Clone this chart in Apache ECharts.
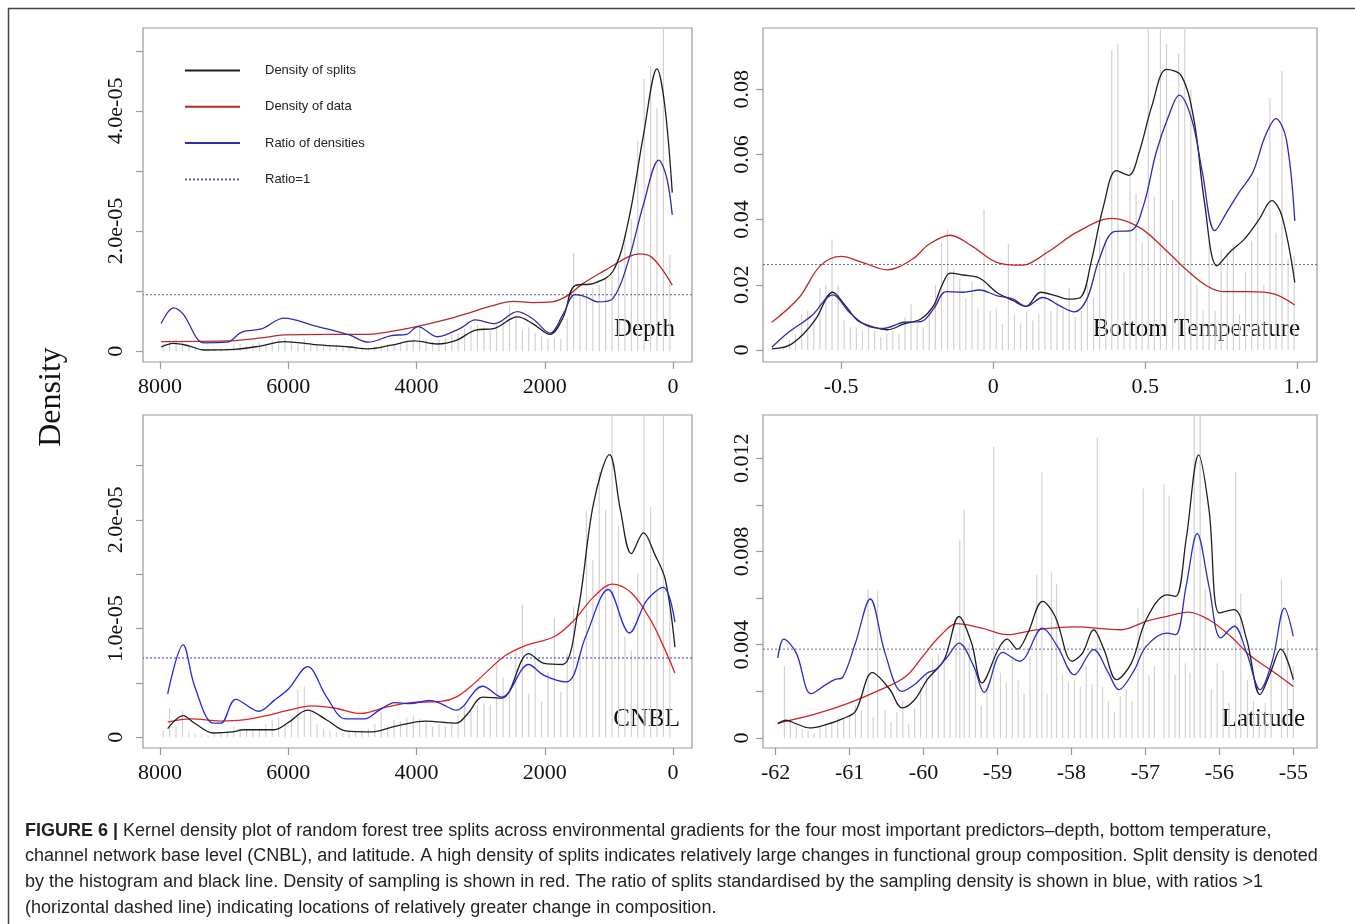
<!DOCTYPE html>
<html>
<head>
<meta charset="utf-8">
<script src="https://cdn.jsdelivr.net/npm/echarts@6/dist/echarts.min.js"></script>
<style>
  html, body { margin: 0; padding: 0; background: #fff; }
  #chart { width: 1355px; height: 924px; }
</style>
</head>
<body>
<div id="chart"></div>
<script>
// ---- Depth (m), densities in units of 1e-5 ----
const depthHist = [[7950,0.12],[7850,0.18],[7750,0.2],[7650,0.15],[7550,0.1],[7450,0.08],[7350,0.05],[7250,0.04],[7150,0.05],[7050,0.06],[6950,0.05],[6850,0.1],[6750,0.12],[6650,0.1],[6550,0.12],[6450,0.15],[6350,0.12],[6250,0.18],[6150,0.2],[6050,0.22],[5950,0.18],[5850,0.12],[5750,0.2],[5650,0.15],[5550,0.12],[5450,0.1],[5350,0.08],[5250,0.1],[5150,0.08],[5050,0.06],[4950,0.05],[4850,0.06],[4750,0.05],[4650,0.08],[4550,0.1],[4450,0.12],[4350,0.1],[4250,0.14],[4150,0.16],[4050,0.2],[3950,0.46],[3850,0.2],[3750,0.15],[3650,0.2],[3550,0.22],[3450,0.28],[3350,0.3],[3250,0.38],[3150,0.42],[3050,0.45],[2950,0.4],[2850,0.35],[2750,0.45],[2650,0.5],[2550,0.77],[2450,0.6],[2350,0.35],[2250,0.4],[2150,0.3],[2050,0.25],[1950,0.2],[1850,0.22],[1750,0.2],[1650,0.55],[1550,1.63],[1450,0.95],[1350,1.0],[1250,1.05],[1150,1.1],[1050,1.2],[950,1.27],[850,1.45],[750,1.94],[650,2.2],[550,3.5],[450,4.53],[350,4.74],[250,4.04],[150,5.6],[50,1.6]];
const depthSplits = [[7982,0.07],[7791,0.13],[7553,0.09],[7314,0.02],[6837,0.03],[6420,0.09],[6062,0.16],[5586,0.11],[5049,0.07],[4751,0.04],[4393,0.10],[4036,0.17],[3678,0.12],[3380,0.18],[3082,0.35],[2784,0.38],[2426,0.57],[2188,0.46],[1919,0.28],[1711,0.57],[1532,1.09],[1234,1.13],[936,1.33],[697,2.16],[459,3.61],[250,4.70],[131,4.11],[12,2.64]];
const depthData = [[7982,0.16],[6956,0.17],[6420,0.22],[6062,0.27],[5347,0.28],[4751,0.28],[4393,0.33],[4036,0.40],[3559,0.52],[3201,0.63],[2843,0.75],[2486,0.83],[2188,0.81],[1890,0.82],[1651,0.92],[1413,1.12],[1055,1.35],[697,1.57],[519,1.62],[340,1.57],[161,1.35],[12,1.10]];
const depthRatio = [[7982,0.46],[7791,0.72],[7642,0.62],[7314,0.14],[6956,0.15],[6718,0.32],[6420,0.37],[6062,0.55],[5586,0.42],[5049,0.27],[4751,0.15],[4393,0.26],[4155,0.28],[3976,0.41],[3678,0.24],[3320,0.38],[3082,0.52],[2784,0.46],[2426,0.66],[2188,0.54],[1919,0.30],[1711,0.62],[1532,0.94],[1353,0.90],[1174,0.82],[936,0.88],[697,1.50],[459,2.45],[221,3.18],[101,2.90],[12,2.27]];
const depthOne = 0.94;
const depthTicks = [0, 2000, 4000, 6000, 8000];
const depthYTicks = [0, 1, 2, 3, 4, 5];
const depthYLabels = [0, 2, 4];

// ---- Bottom temperature (deg C) ----
const tempHist = [[-0.69,0.001],[-0.67,0.003],[-0.65,0.005],[-0.63,0.011],[-0.61,0.012],[-0.59,0.01],[-0.57,0.019],[-0.55,0.02],[-0.53,0.034],[-0.51,0.02],[-0.49,0.009],[-0.47,0.007],[-0.45,0.007],[-0.43,0.006],[-0.41,0.008],[-0.39,0.006],[-0.37,0.004],[-0.35,0.005],[-0.33,0.006],[-0.31,0.005],[-0.29,0.01],[-0.27,0.014],[-0.25,0.008],[-0.23,0.007],[-0.21,0.011],[-0.19,0.02],[-0.17,0.033],[-0.15,0.037],[-0.13,0.025],[-0.11,0.022],[-0.09,0.016],[-0.07,0.021],[-0.05,0.013],[-0.03,0.043],[-0.01,0.012],[0.01,0.013],[0.03,0.008],[0.05,0.0325],[0.07,0.011],[0.09,0.008],[0.11,0.012],[0.13,0.009],[0.15,0.011],[0.17,0.031],[0.19,0.012],[0.21,0.015],[0.23,0.013],[0.25,0.019],[0.27,0.01],[0.29,0.012],[0.31,0.02],[0.33,0.016],[0.35,0.035],[0.37,0.034],[0.39,0.092],[0.41,0.094],[0.43,0.024],[0.45,0.056],[0.47,0.048],[0.49,0.033],[0.51,0.12],[0.53,0.047],[0.55,0.12],[0.57,0.094],[0.59,0.046],[0.61,0.091],[0.63,0.12],[0.65,0.08],[0.67,0.02],[0.69,0.012],[0.71,0.0335],[0.73,0.012],[0.75,0.031],[0.77,0.03],[0.79,0.0325],[0.81,0.011],[0.83,0.024],[0.85,0.0335],[0.87,0.053],[0.89,0.02],[0.91,0.0775],[0.93,0.036],[0.95,0.0856],[0.97,0.028],[0.99,0.029]];
const tempSplits = [[-0.728,0.0003],[-0.673,0.0013],[-0.624,0.0049],[-0.583,0.0095],[-0.528,0.0177],[-0.486,0.0136],[-0.445,0.009],[-0.39,0.0069],[-0.348,0.0062],[-0.293,0.008],[-0.238,0.0095],[-0.196,0.0136],[-0.169,0.0197],[-0.141,0.0236],[-0.099,0.023],[-0.044,0.022],[0.011,0.0177],[0.066,0.0151],[0.108,0.0134],[0.156,0.0177],[0.204,0.0167],[0.246,0.0156],[0.287,0.0161],[0.322,0.0269],[0.363,0.0442],[0.405,0.055],[0.446,0.0536],[0.48,0.0606],[0.522,0.0749],[0.57,0.0861],[0.619,0.0841],[0.66,0.0708],[0.695,0.0453],[0.736,0.0258],[0.778,0.030],[0.826,0.034],[0.874,0.040],[0.916,0.0458],[0.95,0.041],[0.992,0.0207]];
const tempData = [[-0.728,0.0085],[-0.638,0.0161],[-0.569,0.0258],[-0.5,0.0287],[-0.431,0.0269],[-0.348,0.0246],[-0.265,0.0279],[-0.21,0.0325],[-0.141,0.0352],[-0.072,0.032],[0.011,0.0269],[0.094,0.026],[0.177,0.0299],[0.273,0.036],[0.391,0.0404],[0.481,0.0376],[0.564,0.031],[0.633,0.0248],[0.702,0.0197],[0.757,0.0179],[0.84,0.0179],[0.923,0.0172],[0.992,0.0138]];
const tempRatio = [[-0.728,0.0008],[-0.673,0.0054],[-0.597,0.0105],[-0.528,0.0169],[-0.472,0.0115],[-0.417,0.0075],[-0.362,0.0066],[-0.293,0.0085],[-0.238,0.0087],[-0.196,0.0126],[-0.155,0.0179],[-0.099,0.0177],[-0.044,0.0184],[0.011,0.0167],[0.066,0.0156],[0.108,0.0134],[0.163,0.0161],[0.218,0.0136],[0.267,0.0117],[0.308,0.0156],[0.349,0.0279],[0.398,0.0363],[0.453,0.0366],[0.494,0.0442],[0.536,0.0606],[0.577,0.0718],[0.612,0.0782],[0.653,0.0708],[0.688,0.0545],[0.729,0.0366],[0.771,0.0427],[0.812,0.0488],[0.854,0.0545],[0.895,0.0657],[0.93,0.071],[0.964,0.0647],[0.992,0.0396]];
const tempOne = 0.0262;
const tempTicks = [-0.5, 0, 0.5, 1.0];
const tempYTicks = [0, 0.02, 0.04, 0.06, 0.08];

// ---- Channel network base level (m), densities in units of 1e-5 ----
const cnblHist = [[7950,0.06],[7850,0.27],[7750,0.1],[7650,0.25],[7550,0.05],[7450,0.03],[7350,0.02],[7250,0.02],[7150,0.03],[7050,0.04],[6950,0.05],[6850,0.1],[6750,0.08],[6650,0.07],[6550,0.06],[6450,0.08],[6350,0.12],[6250,0.16],[6150,0.18],[6050,0.13],[5950,0.2],[5850,0.44],[5750,0.47],[5650,0.27],[5550,0.12],[5450,0.08],[5350,0.06],[5250,0.05],[5150,0.04],[5050,0.05],[4950,0.05],[4850,0.06],[4750,0.08],[4650,0.12],[4550,0.24],[4450,0.1],[4350,0.16],[4250,0.15],[4150,0.18],[4050,0.2],[3950,0.17],[3850,0.14],[3750,0.1],[3650,0.12],[3550,0.1],[3450,0.15],[3350,0.2],[3250,0.3],[3150,0.25],[3050,0.3],[2950,0.31],[2850,0.3],[2750,0.68],[2650,0.55],[2550,0.45],[2450,0.8],[2350,1.22],[2250,0.4],[2150,0.82],[2050,0.33],[1950,0.6],[1850,1.1],[1750,0.42],[1650,0.77],[1550,1.2],[1450,0.75],[1350,2.08],[1250,1.63],[1150,2.44],[1050,2.09],[950,3.1],[850,1.95],[750,0.93],[650,0.8],[550,1.51],[450,3.1],[350,2.12],[250,1.57],[150,3.1],[50,1.17]];
const cnblSplits = [[7880,0.08],[7640,0.20],[7460,0.13],[7170,0.04],[6870,0.05],[6700,0.07],[6460,0.07],[6220,0.07],[5990,0.14],[5700,0.25],[5400,0.16],[5110,0.06],[4690,0.05],[4340,0.10],[3860,0.15],[3380,0.13],[3200,0.22],[2970,0.37],[2670,0.36],[2250,0.77],[2010,0.68],[1720,0.67],[1480,1.17],[1240,2.15],[990,2.60],[820,2.09],[650,1.69],[460,1.88],[290,1.69],[120,1.45],[-30,0.83]];
const cnblData = [[7880,0.14],[7520,0.17],[7050,0.15],[6700,0.16],[6340,0.20],[5990,0.25],[5640,0.29],[5280,0.27],[4870,0.22],[4460,0.28],[4100,0.32],[3620,0.33],[3380,0.37],[3150,0.47],[2910,0.60],[2620,0.75],[2320,0.84],[1840,0.93],[1540,1.08],[1240,1.29],[950,1.41],[650,1.33],[350,1.08],[120,0.80],[-30,0.59]];
const cnblRatio = [[7880,0.40],[7640,0.85],[7460,0.47],[7170,0.13],[7050,0.13],[6820,0.35],[6460,0.24],[6220,0.34],[5990,0.45],[5700,0.65],[5400,0.37],[5110,0.17],[4810,0.17],[4580,0.25],[4340,0.32],[4100,0.31],[3800,0.34],[3620,0.31],[3380,0.25],[2970,0.47],[2670,0.37],[2250,0.67],[2010,0.57],[1660,0.51],[1360,0.93],[1010,1.36],[680,0.96],[410,1.26],[150,1.38],[-30,1.06]];
const cnblOne = 0.73;
const cnblTicks = [0, 2000, 4000, 6000, 8000];
const cnblYTicks = [0, 0.5, 1, 1.5, 2, 2.5];
const cnblYLabels = [0, 1, 2];

// ---- Latitude (deg) ----
const latHist = [[-61.88,0.0031],[-61.8,0.0008],[-61.72,0.0006],[-61.64,0.0004],[-61.56,0.0003],[-61.48,0.0002],[-61.4,0.0005],[-61.32,0.0006],[-61.24,0.0007],[-61.16,0.0009],[-61.08,0.0008],[-61.0,0.001],[-60.92,0.0014],[-60.84,0.0012],[-60.75,0.0064],[-60.68,0.0009],[-60.62,0.0063],[-60.52,0.0012],[-60.44,0.0007],[-60.36,0.0011],[-60.28,0.0016],[-60.2,0.0006],[-60.12,0.0013],[-60.04,0.0022],[-59.96,0.0028],[-59.88,0.0034],[-59.8,0.0036],[-59.72,0.0033],[-59.64,0.0025],[-59.56,0.0045],[-59.51,0.0085],[-59.45,0.0098],[-59.38,0.0041],[-59.3,0.0028],[-59.22,0.0014],[-59.14,0.0021],[-59.05,0.0125],[-58.96,0.0028],[-58.88,0.0024],[-58.8,0.0035],[-58.72,0.0025],[-58.64,0.0019],[-58.56,0.0035],[-58.47,0.007],[-58.4,0.0114],[-58.33,0.0019],[-58.27,0.0071],[-58.2,0.0066],[-58.12,0.0027],[-58.04,0.0024],[-57.96,0.0025],[-57.88,0.0022],[-57.8,0.0031],[-57.72,0.0023],[-57.65,0.0129],[-57.58,0.0022],[-57.5,0.0016],[-57.42,0.0011],[-57.34,0.0018],[-57.26,0.0021],[-57.18,0.0016],[-57.1,0.0056],[-57.03,0.0107],[-56.95,0.0027],[-56.88,0.0031],[-56.75,0.0109],[-56.68,0.0104],[-56.6,0.0027],[-56.54,0.0044],[-56.46,0.0032],[-56.4,0.0028],[-56.34,0.0145],[-56.26,0.0145],[-56.19,0.0064],[-56.11,0.0021],[-56.03,0.0032],[-55.95,0.0029],[-55.87,0.0015],[-55.78,0.0114],[-55.71,0.0062],[-55.62,0.0025],[-55.54,0.0016],[-55.46,0.0011],[-55.38,0.0015],[-55.3,0.0031],[-55.16,0.0068],[-55.08,0.0042],[-55.0,0.0031]];
const latSplits = [[-61.97,0.00061],[-61.86,0.00076],[-61.72,0.00061],[-61.54,0.00043],[-61.32,0.00057],[-61.09,0.00083],[-60.92,0.00114],[-60.69,0.0028],[-60.46,0.0021],[-60.29,0.00129],[-60.12,0.00164],[-59.95,0.0025],[-59.72,0.00336],[-59.52,0.00521],[-59.35,0.00407],[-59.21,0.00236],[-58.98,0.00386],[-58.87,0.00424],[-58.73,0.00381],[-58.59,0.0045],[-58.39,0.00586],[-58.22,0.00521],[-57.99,0.00329],[-57.85,0.00364],[-57.70,0.00464],[-57.56,0.00379],[-57.39,0.0025],[-57.19,0.00321],[-56.99,0.00507],[-56.71,0.00614],[-56.59,0.00607],[-56.45,0.0085],[-56.28,0.01214],[-56.14,0.00979],[-56.0,0.00536],[-55.80,0.0055],[-55.63,0.00421],[-55.45,0.00186],[-55.31,0.0028],[-55.17,0.00381],[-55.0,0.0025]];
const latData = [[-61.97,0.00064],[-61.49,0.001],[-61.03,0.00147],[-60.58,0.00207],[-60.24,0.00264],[-60.01,0.0035],[-59.78,0.00436],[-59.55,0.0049],[-59.21,0.00471],[-58.87,0.00443],[-58.47,0.00464],[-57.96,0.00476],[-57.33,0.00464],[-56.99,0.005],[-56.71,0.00521],[-56.42,0.0054],[-56.14,0.00507],[-55.85,0.00436],[-55.57,0.0035],[-55.28,0.00286],[-55.0,0.00221]];
const latRatio = [[-61.97,0.00343],[-61.89,0.00424],[-61.72,0.00364],[-61.52,0.0019],[-61.32,0.00229],[-61.2,0.0025],[-61.09,0.00261],[-60.92,0.00407],[-60.72,0.00596],[-60.52,0.00364],[-60.29,0.002],[-60.12,0.00229],[-59.95,0.00279],[-59.84,0.00293],[-59.69,0.00343],[-59.52,0.00407],[-59.32,0.00307],[-59.18,0.00196],[-58.93,0.00367],[-58.70,0.00329],[-58.39,0.00471],[-58.19,0.00393],[-57.96,0.00271],[-57.70,0.00379],[-57.50,0.00279],[-57.36,0.00207],[-57.16,0.00286],[-56.99,0.00393],[-56.71,0.0045],[-56.59,0.00443],[-56.45,0.0065],[-56.30,0.00876],[-56.14,0.0065],[-55.98,0.00429],[-55.80,0.00479],[-55.63,0.00364],[-55.45,0.00207],[-55.28,0.00336],[-55.12,0.00557],[-55.0,0.00436]];
const latOne = 0.00381;
const latTicks = [-62, -61, -60, -59, -58, -57, -56, -55];
const latYTicks = [0, 0.002, 0.004, 0.006, 0.008, 0.010, 0.012];
const latYLabels = [0, 0.004, 0.008, 0.012];

const legendNames = ['Density of splits', 'Density of data', 'Ratio of densities', 'Ratio=1'];
const caption = [
  '{b|FIGURE 6 |} Kernel density plot of random forest tree splits across environmental gradients for the four most important predictors–depth, bottom temperature,',
  'channel network base level (CNBL), and latitude. A high density of splits indicates relatively large changes in functional group composition. Split density is denoted',
  'by the histogram and black line. Density of sampling is shown in red. The ratio of splits standardised by the sampling density is shown in blue, with ratios >1',
  '(horizontal dashed line) indicating locations of relatively greater change in composition.'
];

// ---- styling ----
const SERIF = '"Liberation Serif", "DejaVu Serif", serif';
const SANS = '"Liberation Sans", Arial, sans-serif';
const HIST = '#d2d2d2', BOX = '#9a9a9a', SPLITS = '#1e1e1e';

const panels = [
  { name: 'Depth', hist: depthHist, splits: depthSplits, data: depthData, ratio: depthRatio, one: depthOne,
    grid: { left: 143, top: 28, width: 549, height: 334 },
    x: { min: -296, max: 8265, inverse: true, ticks: depthTicks, fmt: v => String(v) },
    y: { min: -0.18, max: 5.38, ticks: depthYTicks, labels: depthYLabels, fmt: v => v === 0 ? '0' : v.toFixed(1) + 'e-05', margin: 16 },
    red: '#b82a2a', blue: '#2e2ea8', dash: '#5a6090', tag: { right: 17, cy: 331 } },
  { name: 'Bottom Temperature', hist: tempHist, splits: tempSplits, data: tempData, ratio: tempRatio, one: tempOne,
    grid: { left: 763, top: 28, width: 554, height: 334 },
    x: { min: -0.757, max: 1.065, inverse: false, ticks: tempTicks, fmt: v => v === 1 ? '1.0' : String(v) },
    y: { min: -0.0037, max: 0.0988, ticks: tempYTicks, labels: tempYTicks, fmt: v => v === 0 ? '0' : v.toFixed(2), margin: 10 },
    red: '#c02626', blue: '#2a2ab4', dash: '#6a6a80', tag: { right: 17, cy: 331 } },
  { name: 'CNBL', hist: cnblHist, splits: cnblSplits, data: cnblData, ratio: cnblRatio, one: cnblOne,
    grid: { left: 143, top: 415, width: 549, height: 333 },
    x: { min: -296, max: 8265, inverse: true, ticks: cnblTicks, fmt: v => String(v) },
    y: { min: -0.098, max: 2.965, ticks: cnblYTicks, labels: cnblYLabels, fmt: v => v === 0 ? '0' : v.toFixed(1) + 'e-05', margin: 16 },
    red: '#e02222', blue: '#2626e6', dash: '#3434e0', tag: { right: 12, cy: 721 } },
  { name: 'Latitude', hist: latHist, splits: latSplits, data: latData, ratio: latRatio, one: latOne,
    grid: { left: 763, top: 415, width: 554, height: 333 },
    x: { min: -62.17, max: -54.68, inverse: false, ticks: latTicks, fmt: v => String(v) },
    y: { min: -0.00043, max: 0.01385, ticks: latYTicks, labels: latYLabels, fmt: v => v === 0 ? '0' : v.toFixed(3), margin: 10 },
    red: '#cc2424', blue: '#2c2cc8', dash: '#6a6a90', tag: { right: 12, cy: 721 } }
];

const grids = [], xAxes = [], yAxes = [], series = [], graphics = [];
panels.forEach((p, i) => {
  grids.push(Object.assign({ show: true, borderColor: BOX, borderWidth: 1.2, backgroundColor: 'transparent' }, p.grid));
  xAxes.push({
    type: 'value', gridIndex: i, min: p.x.min, max: p.x.max, inverse: p.x.inverse,
    axisLine: { show: false, onZero: false }, splitLine: { show: false },
    axisTick: { show: true, length: 7, lineStyle: { color: BOX, width: 1.2 }, customValues: p.x.ticks },
    axisLabel: { customValues: p.x.ticks, formatter: p.x.fmt, margin: 14, fontFamily: SERIF, fontSize: 22, color: '#111' }
  });
  yAxes.push({
    type: 'value', gridIndex: i, min: p.y.min, max: p.y.max,
    axisLine: { show: false, onZero: false }, splitLine: { show: false },
    axisTick: { show: true, length: 7, lineStyle: { color: BOX, width: 1.2 }, customValues: p.y.ticks },
    axisLabel: { customValues: p.y.labels, formatter: p.y.fmt, rotate: 90, margin: p.y.margin, fontFamily: SERIF, fontSize: 22, color: '#111' }
  });
  const base = { xAxisIndex: i, yAxisIndex: i, animation: false, silent: true };
  series.push(Object.assign({ type: 'bar', name: 'hist' + i, data: p.hist, barWidth: 1.2, itemStyle: { color: HIST }, z: 1, clip: true }, base));
  const line = (name, data, color, z) => Object.assign({
    type: 'line', name, data, smooth: 0.35, symbol: 'none', showSymbol: false, clip: true, z,
    lineStyle: { color, width: 1.3 }, itemStyle: { color }
  }, base);
  series.push(line(legendNames[1], p.data, p.red, 3));
  series.push(line(legendNames[0], p.splits, SPLITS, 4));
  series.push(line(legendNames[2], p.ratio, p.blue, 5));
  series.push(Object.assign({
    type: 'line', name: legendNames[3], data: [[p.x.min, p.one], [p.x.max, p.one]], symbol: 'none', z: 2,
    lineStyle: { color: p.dash, width: 1, type: [2, 2] }, itemStyle: { color: p.dash }
  }, base));
  graphics.push({
    type: 'text', right: 1355 - p.grid.left - p.grid.width + p.tag.right, top: p.tag.cy - 14,
    style: { text: p.name, font: '25px ' + SERIF, fill: '#111' }
  });
});

// left-side axis title
graphics.push({
  type: 'text', x: 52, y: 397, rotation: Math.PI / 2,
  style: { text: 'Density', font: '32px ' + SERIF, fill: '#111', align: 'center', verticalAlign: 'middle' }
});
// figure frame
graphics.push({ type: 'line', shape: { x1: 8, y1: 8.5, x2: 1355, y2: 8.5 }, style: { stroke: '#444', lineWidth: 1.5 } });
graphics.push({ type: 'line', shape: { x1: 8.5, y1: 8, x2: 8.5, y2: 924 }, style: { stroke: '#444', lineWidth: 1.5 } });
// caption
graphics.push({
  type: 'text', x: 25, y: 818,
  style: {
    text: caption.join('\n'), fontFamily: SANS, fontSize: 18, fill: '#231f20', lineHeight: 25.6,
    rich: { b: { fontFamily: SANS, fontSize: 18, fontWeight: 'bold', fill: '#231f20', lineHeight: 25.6 } }
  }
});

const chart = echarts.init(document.getElementById('chart'), null, { renderer: 'canvas' });
chart.setOption({
  animation: false,
  backgroundColor: '#fff',
  grid: grids, xAxis: xAxes, yAxis: yAxes, series,
  legend: {
    data: legendNames, left: 179, top: 59, orient: 'vertical',
    itemWidth: 55, itemHeight: 14, itemGap: 23.3, selectedMode: false,
    itemStyle: { opacity: 0 },
    textStyle: { fontFamily: SANS, fontSize: 13, color: '#222', padding: [0, 0, 0, 20] }
  },
  graphic: graphics
});
</script>
</body>
</html>
